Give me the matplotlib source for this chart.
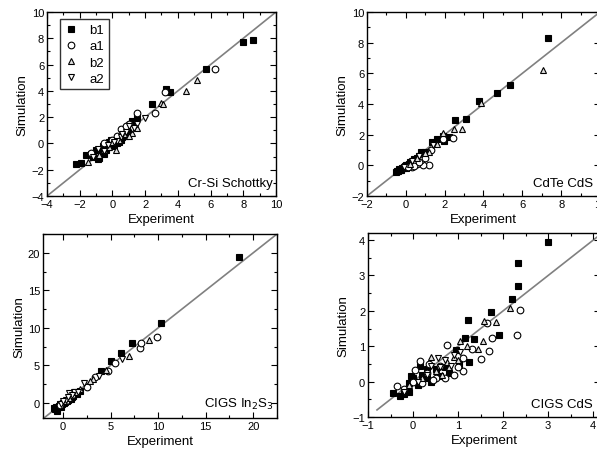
import numpy as np
import matplotlib.pyplot as plt
from matplotlib.ticker import MultipleLocator

plt.rcParams['font.family'] = ['Liberation Sans', 'DejaVu Sans']

series = ['b1', 'a1', 'b2', 'a2']

# Cr-Si Schottky
crsi = {
    'b1': ([8.6, 8.0, 5.7, 3.3, 3.5, 2.4, -2.2, -1.9, -1.6, -0.8, -0.5, -0.3, 0.0, 0.2, 0.5, 1.2, 1.5, -1.0, -0.6, 0.1, -0.2, -0.9, 0.8,
            -1.3, -0.7, -0.4, 0.0, 0.3, 0.6, 1.0, -1.2, -0.1, 0.4],
           [7.85, 7.7, 5.7, 4.15, 3.9, 3.0, -1.6, -1.45, -0.9, -1.1, -0.8, -0.3, 0.0, 0.2, 0.3, 1.7, 2.0, -0.5, -0.2, -0.1, 0.1, -1.2, 0.6,
            -0.8, -0.6, -0.5, -0.2, 0.0, 0.5, 0.9, -1.0, 0.3, 0.1]),
    'a1': ([6.3, 3.2, 2.6, 1.5, 0.5, -1.3, 0.0, 0.3, 1.0, -0.5, 0.8],
           [5.7, 3.9, 2.35, 2.3, 1.1, -0.7, 0.3, 0.6, 1.5, 0.0, 1.3]),
    'b2': ([5.2, 4.5, 3.0, 3.1, 1.2, 0.2, -1.5, -0.2, 0.7, 1.5, -0.8, 0.0, 0.4, -0.5, 1.0],
           [4.8, 4.0, 3.1, 3.0, 0.8, -0.5, -1.4, -0.3, 0.7, 1.2, -0.9, 0.1, 0.3, -0.5, 0.6]),
    'a2': ([2.0, 1.5, 1.2, -0.9, 0.5, 1.0, -0.5, 0.3, 0.8, -1.2, -0.3, 0.1, 0.6, 1.3],
           [1.9, 1.5, 1.1, -0.4, 0.5, 1.3, -0.6, 0.2, 0.9, -1.0, -0.1, 0.1, 0.7, 1.2]),
}

# CdTe CdS
cdte = {
    'b1': ([7.3, 5.35, 4.7, 3.75, 3.1, 2.55, 2.2, 1.9, 1.95, 1.6, 1.35, 0.8, 0.4, 0.2, 0.0, -0.2, -0.4, -0.3, 0.1, 0.5, 1.0, -0.1, 0.3,
            -0.45, -0.35, -0.25, -0.15, -0.05, 0.05, 0.15, 0.25, 0.35, 0.45, 0.6, 0.7, -0.5, 0.0, 0.2],
           [8.3, 5.25, 4.75, 4.2, 3.0, 2.95, 1.85, 1.9, 1.6, 1.7, 1.5, 0.85, 0.4, 0.2, 0.0, -0.2, -0.35, -0.3, 0.0, 0.3, 0.9, -0.1, 0.1,
            -0.4, -0.25, -0.3, -0.15, -0.05, 0.05, 0.1, 0.2, 0.3, 0.35, 0.5, 0.6, -0.45, -0.15, -0.05]),
    'a1': ([2.45, 1.2, 0.9, 0.6, 0.8, 1.3, 0.3, 0.5, 0.1, 1.9, 0.4, 0.7, 1.0],
           [1.8, 0.0, 0.0, 0.1, 0.35, 1.0, -0.1, 0.2, -0.1, 1.7, -0.05, 0.2, 0.5]),
    'b2': ([7.05, 3.85, 2.9, 2.5, 1.9, 1.6, 1.2, 0.6, 0.2, 1.0],
           [6.2, 4.05, 2.4, 2.35, 2.1, 1.4, 0.9, 0.45, 0.1, 0.8]),
    'a2': ([1.4, 0.7, 0.3, -0.1],
           [1.3, 0.6, 0.3, -0.1]),
}

# CIGS In2S3
cigs_ins = {
    'b1': ([18.5, 10.3, 7.3, 6.1, 5.1, 4.0, 1.5, 1.0, 0.5, 0.0, -0.5, -0.6, 0.2, -0.3, 0.8, 1.3, -0.8,
            -0.9, -0.7, -0.4, -0.1, 0.1, 0.4, 0.7, 1.1, 1.8, -0.2],
           [19.4, 10.6, 8.0, 6.6, 5.6, 4.3, 1.2, 0.8, 0.4, 0.0, -0.6, -1.0, 0.1, -0.2, 0.5, 1.4, -0.8,
            -0.7, -0.5, -0.4, -0.1, 0.0, 0.3, 0.6, 0.9, 1.6, -0.5]),
    'a1': ([9.9, 8.1, 8.2, 5.5, 4.7, 3.4, 2.5, 1.0, 0.3, -0.3],
           [8.8, 7.3, 8.0, 5.3, 4.3, 3.5, 2.1, 1.0, 0.2, -0.3]),
    'b2': ([9.0, 6.9, 4.5, 3.2, 2.8, 1.8, 1.4, 0.6, 0.1],
           [8.4, 6.3, 4.4, 3.2, 2.9, 1.9, 1.5, 0.7, 0.2]),
    'a2': ([6.2, 3.8, 2.2, 1.2, 0.6, 0.3, -0.2, 0.9, 0.0, 0.5, 1.6],
           [5.8, 3.6, 2.6, 1.5, 1.3, 0.4, -0.1, 1.1, 0.3, 0.8, 1.4]),
}

# CIGS CdS
cigs_cds = {
    'b1': ([3.0, 2.32, 2.32, 2.2, 1.72, 1.9, 1.23, 1.35, 1.15, 0.95, 1.25, 1.02, 0.8, 0.5, 0.3, 0.15, 0.0, -0.1, -0.2, -0.3, -0.45, -0.1, 0.1, 0.2, 0.4, 0.6, -0.05, 0.3, 0.7],
           [3.95, 3.35, 2.7, 2.33, 1.98, 1.33, 1.73, 1.2, 1.22, 0.9, 0.56, 0.5, 0.25, 0.35, 0.1, 0.45, 0.1, -0.05, -0.35, -0.4, -0.32, -0.3, -0.1, 0.2, 0.0, 0.15, 0.15, 0.35, 0.4]),
    'a1': ([2.38, 2.31, 1.65, 1.75, 1.68, 1.5, 1.3, 1.1, 0.75, 1.1, 0.15, 0.05, -0.35, 0.3, 0.5, 0.6, 0.9, 0.2, 0.45, -0.2, 0.7, 0.0, 1.0, 0.35],
           [2.03, 1.33, 1.65, 1.22, 0.87, 0.65, 0.92, 0.68, 1.03, 0.3, 0.57, 0.32, -0.13, 0.25, 0.1, 0.45, 0.2, -0.05, 0.05, -0.2, 0.1, 0.0, 0.4, 0.5]),
    'b2': ([2.15, 1.85, 1.58, 1.55, 1.45, 1.2, 1.05, 0.9, 0.75, 0.65, 0.4, 0.8, 0.5, 0.2, -0.1, 1.0],
           [2.08, 1.68, 1.7, 1.15, 0.93, 1.0, 1.15, 0.7, 0.55, 0.2, 0.7, 0.4, 0.3, 0.1, -0.1, 0.6]),
    'a2': ([0.55, 0.9, 0.85, 0.6, 0.3, 0.1, -0.2, 0.7, 1.05, 0.4],
           [0.68, 0.75, 0.45, 0.4, 0.2, 0.0, -0.3, 0.6, 0.85, 0.45]),
}

styles = {
    'b1': dict(marker='s', mfc='black', mec='black'),
    'a1': dict(marker='o', mfc='white', mec='black'),
    'b2': dict(marker='^', mfc='#e0e0e0', mec='black'),
    'a2': dict(marker='v', mfc='white', mec='black'),
}

panels = [
    (crsi, 'Cr-Si Schottky', (-4, 10), (-4, 10), 2, 1, (-4, 10), [0.0787, 0.5717, 0.3836, 0.40]),
    (cdte, 'CdTe CdS', (-2, 10), (-2, 10), 2, 1, (-2, 10), [0.6147, 0.5717, 0.3903, 0.40]),
    (cigs_ins, 'CIGS In$_2$S$_3$', (-2.1, 22.5), (-2, 22.5), 5, 2.5, (-2.1, 22.5), [0.0720, 0.0891, 0.3920, 0.40]),
    (cigs_cds, 'CIGS CdS', (-1, 4.15), (-1, 4.2), 1, 0.5, (-0.8, 4.2), [0.6164, 0.0913, 0.3886, 0.40]),
]

fig = plt.figure(figsize=(5.97, 4.60), dpi=100)

for i, (data, label, xl, yl, major, minor, diag, pos) in enumerate(panels):
    ax = fig.add_axes(pos)
    ax.plot(diag, diag, color='#808080', lw=1.2, zorder=1)
    for s in series:
        x, y = data[s]
        ax.plot(x, y, ls='none', ms=4.8, mew=0.8, label=s, zorder=2, **styles[s])
    ax.set_xlim(xl)
    ax.set_ylim(yl)
    ax.xaxis.set_major_locator(MultipleLocator(major))
    ax.yaxis.set_major_locator(MultipleLocator(major))
    ax.xaxis.set_minor_locator(MultipleLocator(minor))
    ax.yaxis.set_minor_locator(MultipleLocator(minor))
    ax.tick_params(which='both', direction='in', top=True, right=True, labelsize=8, pad=2)
    ax.tick_params(which='major', length=4, width=0.8)
    ax.tick_params(which='minor', length=2, width=0.8)
    for sp in ax.spines.values():
        sp.set_linewidth(1.0)
    ax.set_xlabel('Experiment', fontsize=9.5, labelpad=3)
    ax.set_ylabel('Simulation', fontsize=9.5, labelpad=2)
    xr = 0.97 if i % 2 else 0.985
    ax.text(xr, 0.04, label, transform=ax.transAxes, ha='right', va='bottom', fontsize=9.5)
    if i == 0:
        ax.legend(loc='upper left', bbox_to_anchor=(0.055, 0.96), frameon=True, fancybox=False,
                  edgecolor='black', fontsize=9.5, handlelength=1.0, handletextpad=0.9,
                  borderpad=0.35, labelspacing=0.3, borderaxespad=0.0)

fig.savefig('out.png', dpi=100)
